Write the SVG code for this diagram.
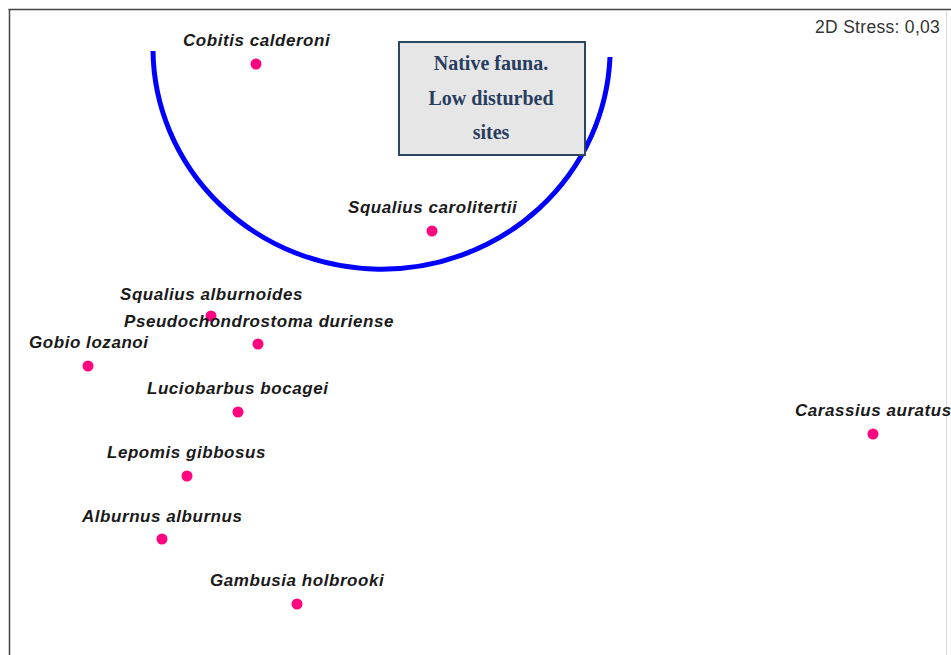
<svg xmlns="http://www.w3.org/2000/svg" width="951" height="655" viewBox="0 0 951 655">
<style>
.lbl{font-family:"Liberation Sans",Arial,sans-serif;font-size:17px;letter-spacing:0.55px;font-style:italic;font-weight:bold;fill:#1a1a1a}
.dot{fill:#ff0580}
.box{fill:#e6e6e6;stroke:#2c4560;stroke-width:2}
.boxt{font-family:"Liberation Serif","Times New Roman",serif;font-size:20px;font-weight:bold;fill:#283d5e;text-anchor:middle}
.stress{font-family:"Liberation Sans",Arial,sans-serif;font-size:17.5px;letter-spacing:0.3px;fill:#333}
</style>
<rect width="951" height="655" fill="#fff"/>
<g id="frame">
<line x1="8.5" y1="9.5" x2="951" y2="9.5" stroke="#444" stroke-width="1.5"/>
<line x1="9.5" y1="9" x2="9.5" y2="655" stroke="#444" stroke-width="1.5"/>
<line x1="946.5" y1="10" x2="946.5" y2="655" stroke="#d8d8d8" stroke-width="1"/>
</g>
<text class="stress" x="815" y="33">2D Stress: 0,03</text>
<g id="connectors">
<path d="M153,51 A228.6,221 0 0 0 610,57" fill="none" stroke="#0000ff" stroke-width="5"/>
</g>
<g id="note">
<rect class="box" x="399" y="42" width="186" height="113"/>
<text class="boxt" x="491" y="70">Native fauna.</text>
<text class="boxt" x="491" y="105">Low disturbed</text>
<text class="boxt" x="491" y="139">sites</text>
</g>
<g id="cobitis"><circle class="dot" cx="256" cy="64" r="5.5"/><text class="lbl" x="183" y="46">Cobitis calderoni</text></g>
<g id="sqcarolitertii"><circle class="dot" cx="432" cy="231" r="5.5"/><text class="lbl" x="348" y="213">Squalius carolitertii</text></g>
<g id="sqalburnoides"><circle class="dot" cx="211" cy="316" r="5.5"/><text class="lbl" x="120" y="300">Squalius alburnoides</text></g>
<g id="pseudochondrostoma"><circle class="dot" cx="258" cy="344" r="5.5"/><text class="lbl" x="124" y="327">Pseudochondrostoma duriense</text></g>
<g id="gobio"><circle class="dot" cx="88" cy="366" r="5.5"/><text class="lbl" x="29" y="348">Gobio lozanoi</text></g>
<g id="luciobarbus"><circle class="dot" cx="238" cy="412" r="5.5"/><text class="lbl" x="147" y="394">Luciobarbus bocagei</text></g>
<g id="carassius"><circle class="dot" cx="873" cy="434" r="5.5"/><text class="lbl" x="795" y="416">Carassius auratus</text></g>
<g id="lepomis"><circle class="dot" cx="187" cy="476" r="5.5"/><text class="lbl" x="107" y="458">Lepomis gibbosus</text></g>
<g id="alburnus"><circle class="dot" cx="162" cy="539" r="5.5"/><text class="lbl" x="82" y="522">Alburnus alburnus</text></g>
<g id="gambusia"><circle class="dot" cx="297" cy="604" r="5.5"/><text class="lbl" x="210" y="586">Gambusia holbrooki</text></g>
</svg>
